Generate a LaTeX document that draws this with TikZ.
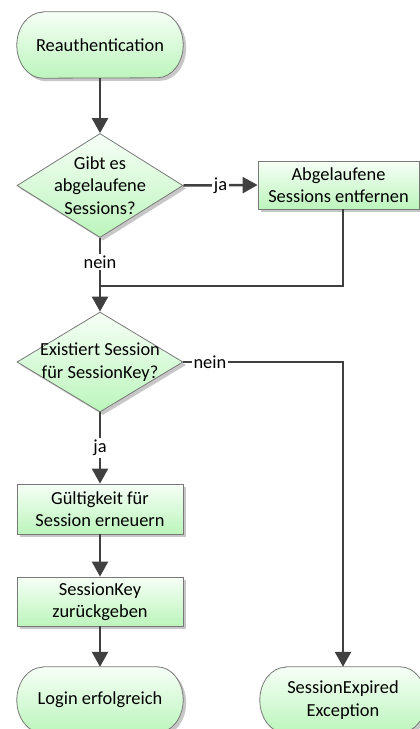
\documentclass[tikz,border=0pt]{standalone}
\usepackage{fontspec}
\setmainfont{Carlito}
\usetikzlibrary{shapes.geometric,arrows.meta,shadows,backgrounds}

\definecolor{fillTop}{RGB}{246,255,246}
\definecolor{fillBot}{RGB}{188,245,188}
\definecolor{edgeGray}{RGB}{120,120,120}
\definecolor{lineDark}{RGB}{64,64,64}

\tikzset{
  shapefill/.style={draw=edgeGray, line width=0.8pt, top color=fillTop, bottom color=fillBot,
    drop shadow={shadow xshift=3pt, shadow yshift=-3pt, fill=black!22, opacity=1}},
  procbox/.style={shapefill, rectangle, inner sep=0pt, align=center},
  decision/.style={shapefill, diamond, inner sep=0pt, minimum width=166pt, minimum height=104pt},
  decisiontext/.style={inner sep=0pt, align=center},
  termnode/.style={rectangle, inner sep=0pt, align=center, minimum width=166pt, minimum height=66pt},
  conn/.style={draw=lineDark, line width=2.5pt},
  arr/.style={conn, -{Triangle[length=15pt, width=16pt]}},
  lbl/.style={fill=white, inner sep=2pt, text=black},
}

% rounded terminator outline behind a terminal node
\newcommand\termoutline[1]{%
  \begin{pgfonlayer}{background}
    \path[shapefill] ([xshift=26pt]#1.north west) -- ([xshift=-26pt]#1.north east)
      arc[start angle=90, end angle=-90, x radius=26pt, y radius=33pt]
      -- ([xshift=26pt]#1.south west)
      arc[start angle=270, end angle=90, x radius=26pt, y radius=33pt] -- cycle;
  \end{pgfonlayer}}

\begin{document}
\begin{tikzpicture}[x=1pt, y=1pt, font=\fontsize{18.4}{22.5}\selectfont]
  \useasboundingbox (0,0) rectangle (420,-729);
  \clip (0,0) rectangle (420,-729);

  % left column
  \node[termnode] (start) at (100,-45) {Reauthentication};
  \termoutline{start}

  \node[decision] (d1) at (100,-185.5) {};
  \node[decisiontext] (d1t) at (100,-185.5) {Gibt es\\abgelaufene\\Sessions?};

  \node[procbox, minimum width=161pt, minimum height=48pt] (rm) at (338.5,-185)
    {Abgelaufene\\Sessions entfernen};

  \coordinate (merge) at (100,-286);

  \node[decision, minimum height=100pt] (d2) at (100,-362) {};
  \node[decisiontext] (d2t) at (100,-362) {Existiert Session\\für SessionKey?};

  \node[procbox, minimum width=166pt, minimum height=50pt] (renew) at (100,-509)
    {Gültigkeit für\\Session erneuern};
  \node[procbox, minimum width=166pt, minimum height=49pt] (retkey) at (100,-601.5)
    {SessionKey\\zurückgeben};

  \node[termnode] (login) at (100,-700) {Login erfolgreich};
  \termoutline{login}
  \node[termnode] (expired) at (343,-700) {SessionExpired\\Exception};
  \termoutline{expired}

  % connectors
  \draw[arr] (start) -- (d1);
  \draw[arr] (d1.east) -- node[lbl] {ja} (rm.west);
  \draw[conn] (d1.south) -- node[lbl] {nein} (merge);
  \draw[conn] ([xshift=4.5pt]rm.south) |- (merge);
  \draw[arr] (merge) -- (d2.north);
  \draw[arr] (d2.east) -- node[lbl, pos=0.166] {nein} (d2.east -| expired.north) -- (expired.north);
  \draw[arr] (d2.south) -- node[lbl] {ja} (renew.north);
  \draw[arr] (renew) -- (retkey);
  \draw[arr] (retkey) -- (login);
\end{tikzpicture}
\end{document}
